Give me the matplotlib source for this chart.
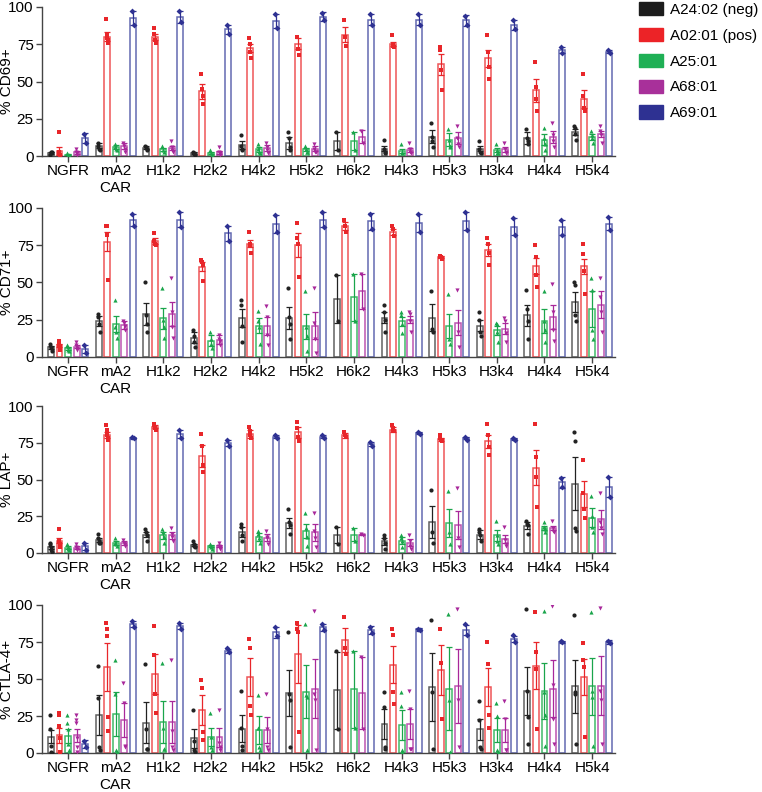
import numpy as np
import matplotlib
matplotlib.use('Agg')
from matplotlib import pyplot as plt
from matplotlib.patches import Patch

plt.rcParams['font.family'] = ['Liberation Sans', 'DejaVu Sans']

# Groups and series
groups = ['NGFR', 'mA2\nCAR', 'H1k2', 'H2k2', 'H4k2', 'H5k2', 'H6k2', 'H4k3', 'H5k3', 'H3k4', 'H4k4', 'H5k4']
series = ['A24:02 (neg)', 'A02:01 (pos)', 'A25:01', 'A68:01', 'A69:01']
fill_colors = ['#1c1c1c', '#ec2327', '#1fb055', '#a8309a', '#2e3192']
edge_colors = ['#606060', '#ef5557', '#40b968', '#bd55b1', '#6369b2']
err_colors = ['#222222', '#e8262a', '#1aa54b', '#a8279a', '#2e3192']
markers = ['o', 's', '^', 'v', 'D']

# ---- CD69 ----
cd69_mean = [[2, 7, 5.5, 2, 7.5, 9, 10, 5, 13, 5, 12, 16],
             [3.5, 80, 80, 43.5, 72.5, 75.5, 81.5, 75, 61.5, 65.5, 44, 38],
             [1, 6, 4.5, 2, 4.5, 4.5, 10, 3.5, 11, 4, 11, 13],
             [2.5, 7, 5.5, 2.5, 5.5, 5, 13, 4, 12, 4.5, 13, 15],
             [12, 92.5, 93.5, 85, 90.5, 93.5, 91.5, 91.5, 91, 88, 71, 70]]
cd69_err = [[0.5, 1.5, 1, 0.5, 2.5, 4, 6, 1.5, 4.5, 1.5, 4, 2],
            [2.5, 3, 2, 5, 2.5, 3.5, 5, 1.5, 7, 5.5, 8, 6],
            [0.5, 1.5, 1, 0.7, 1.5, 1.2, 6, 1.5, 4.5, 1.5, 3.5, 2],
            [1, 2, 1.5, 1, 2, 1.5, 4.5, 1.5, 4, 1.5, 4, 2],
            [3.5, 4.5, 4, 3, 4.5, 3, 3.5, 3.5, 3.5, 3.5, 2, 1]]
cd69_pts = [[[1, 2, 3, 2.5], [9, 7, 5, 4], [7, 6, 5, 4], [3, 2, 1.5, 1], [14, 7, 5, 4], [16, 12, 6, 4], [16, 4],
             [11, 5, 3, 2], [22, 13, 10, 6], [10, 5, 3, 2], [18, 12, 10, 8], [20, 19, 15, 11]],
            [[16, 3, 2, 1, 0.5], [92, 81, 79, 78, 76], [86, 82, 78, 76], [55, 45, 40, 35], [79, 75, 70, 66],
             [80, 80, 72, 68], [91, 80, 74], [81, 75, 74, 73], [73, 71, 58, 44], [81, 70, 60, 52], [63, 46, 38, 30],
             [55, 40, 32, 30]],
            [[2, 1, 0.5], [8, 6, 5, 4], [7, 4, 3], [4, 2, 1], [8, 5, 3, 2], [7, 5, 3, 3], [16, 4], [8, 3, 2],
             [18, 11, 7, 6], [8, 4, 2, 2], [19, 12, 8, 4], [17, 14, 12, 9]],
            [[5, 3, 2, 1], [9, 7, 5, 3], [10, 6, 4, 3], [6, 3, 2, 1], [9, 6, 4, 2], [8, 5, 3, 3], [17, 9], [9, 5, 3, 2],
             [20, 12, 8, 6], [9, 5, 3, 2], [22, 14, 10, 6], [20, 17, 14, 9]],
            [[15, 9], [97, 88], [97, 90], [88, 82], [95, 86], [96, 91], [95, 88], [95, 88], [94, 88], [91, 85],
             [73, 69], [71, 69]]]

# ---- CD71 ----
cd71_mean = [[6.5, 24, 29, 13, 26, 26, 39, 26.5, 26.5, 21, 28, 37],
             [8, 77.5, 78, 60.5, 76, 75, 88, 84, 67, 72, 61, 61],
             [6, 22, 26, 11, 21, 20.5, 40, 24, 21, 18, 24, 32],
             [7, 21.5, 29, 11.5, 21, 21, 44, 25, 23, 19, 27, 35],
             [5.5, 92, 92, 83, 89.5, 92, 91, 90, 91, 87.5, 87, 89.5]]
cd71_err = [[1, 3.5, 7.5, 3.5, 6, 7.5, 16, 3.5, 9, 3.5, 7, 6.5],
            [1, 6.5, 2, 3, 2.5, 8, 2.5, 2, 0.5, 4, 5.5, 5],
            [1, 5.5, 7, 3.5, 5, 8.5, 16, 3, 8, 3, 8, 12],
            [1, 2.5, 8, 3, 6, 9, 12, 2.5, 8.5, 3.5, 8, 9],
            [2.5, 4, 5, 5, 6, 5, 5.5, 6, 6, 5.5, 5, 4.5]]
cd71_pts = [[[9, 7, 6, 4], [29, 27, 22, 17], [50, 28, 22, 17], [18, 14, 10, 7], [38, 35, 21, 10], [46, 27, 22, 12],
             [55, 24], [35, 30, 25, 17], [44, 19, 17], [30, 25, 17, 14], [45, 32, 24, 12], [50, 48, 28, 24]],
            [[11, 9, 8, 7, 6, 5], [88, 88, 82, 52], [83, 78, 76, 75], [65, 64, 62, 51], [84, 76, 75, 70],
             [90, 80, 76, 54], [92, 88, 84], [88, 86, 81], [68, 67, 67, 66], [80, 76, 70, 62], [75, 67, 55, 47],
             [76, 69, 58, 42]],
            [[8, 7, 5, 4], [38, 20, 17, 13], [46, 25, 20, 13], [17, 12, 9, 6], [31, 24, 20, 9], [44, 20, 14, 4],
             [56, 24], [30, 28, 22, 16], [42, 12, 9], [23, 22, 17, 10], [44, 24, 18, 10], [53, 45, 18, 12]],
            [[10, 8, 6, 5], [24, 23, 21, 18], [53, 30, 20, 13], [15, 12, 11, 8], [34, 27, 15, 8], [46, 23, 12, 3],
             [56, 32], [30, 29, 24, 17], [45, 17, 7], [26, 24, 16, 10], [49, 30, 18, 11], [53, 40, 30, 17]],
            [[8, 3], [96, 88], [97, 87], [88, 78], [95, 84], [97, 87], [96, 86], [96, 84], [97, 85], [93, 82],
             [92, 82], [94, 85]]]

# ---- LAP ----
lap_mean = [[4, 9, 12.5, 5.5, 14.5, 20.5, 12, 8, 21, 12.5, 18.5, 47],
            [8.5, 80, 86, 66, 81, 82, 80, 84, 77.5, 76, 58, 40],
            [3.5, 7, 12, 4.5, 11, 15, 12.5, 8.5, 20.5, 12, 17, 24],
            [3.5, 7, 12, 4.5, 10.5, 14, 12.5, 7, 19, 9.5, 17, 23],
            [4.5, 78, 81, 75, 79, 79, 74, 81.5, 78, 77.5, 48, 45]]
lap_err = [[1, 1.5, 1.5, 0.8, 3.5, 3.5, 5.5, 2.5, 11, 3, 2.5, 18],
           [2, 2, 1, 7.5, 2.5, 3.5, 1.5, 1.5, 1, 4.5, 12, 9],
           [1, 1.5, 2.5, 0.7, 2.5, 5, 4.5, 2.5, 9.5, 3.5, 1.5, 6.5],
           [1, 1.5, 2.5, 0.7, 2.5, 5.5, 0.3, 2.5, 9.5, 3, 1.5, 6.5],
           [2.5, 0.5, 3, 2, 1, 1, 1.5, 0.5, 0.7, 0.5, 3.5, 7]]
lap_pts = [[[7, 6, 4, 2, 1], [13, 10, 8, 7, 7], [16, 14, 12, 8], [8, 6, 5, 4], [20, 18, 12, 8], [30, 21, 19, 13],
            [18, 6], [12, 10, 7, 3], [43, 14, 7], [16, 14, 12, 8], [22, 20, 19, 13], [82, 76, 17, 15]],
           [[16, 9, 8, 6, 4], [87, 84, 80, 78, 77], [88, 87, 85, 84], [81, 73, 60, 55], [86, 83, 80, 78],
            [89, 85, 79, 76], [82, 80, 79], [87, 85, 84, 83], [80, 78, 77, 76], [88, 80, 72, 67], [88, 65, 52, 31],
            [63, 41, 30, 24]],
           [[6, 4, 3, 2], [10, 7, 6, 5], [16, 14, 11, 7], [6, 5, 4, 3], [15, 13, 10, 7], [27, 17, 11, 5], [17, 8],
            [12, 10, 8, 4], [42, 14, 6], [22, 12, 8, 6], [21, 18, 16, 14], [39, 25, 18, 14]],
           [[6, 4, 3, 2], [9, 7, 6, 5], [17, 13, 11, 8], [7, 5, 4, 3], [15, 11, 10, 6], [27, 15, 10, 4], [13, 12.5],
            [12, 8, 5, 3], [44, 10, 4], [18, 9, 6, 5], [22, 17, 15, 14], [41, 21, 17, 13]],
           [[7, 2], [79, 78], [84, 78], [77, 73], [80, 78], [80, 78], [75.5, 73], [82, 81], [79, 77], [78, 77],
            [51, 45], [52, 38]]]

# ---- CTLA-4 ----
ctla4_mean = [[11, 25.5, 20.5, 10, 16.5, 40.5, 42.5, 19.5, 44.5, 16, 42, 45],
              [12, 58, 53.5, 29, 51.5, 67, 76.5, 59.5, 56, 44.5, 59, 51.5],
              [11.5, 26.5, 21, 11, 15.5, 41.5, 43, 19, 43.5, 15.5, 42, 45],
              [12, 22.5, 21, 10.5, 15.5, 43.5, 40.5, 19.5, 45.5, 15.5, 43.5, 45.5],
              [6, 87, 86, 69, 81.5, 85, 83, 83.5, 83, 77, 75, 75]]
ctla4_err = [[4.5, 13.5, 14, 6.5, 9, 15.5, 26, 10, 23, 7, 16, 18],
             [5, 16, 13.5, 10, 13, 19.5, 8, 12.5, 17, 13, 16, 12],
             [5, 15, 14, 6, 9.5, 18, 26, 10, 28, 8, 19, 19.5],
             [4.5, 11.5, 14, 6.5, 9, 20, 24.5, 10, 25, 8, 19.5, 20],
             [2.5, 2, 2, 1.5, 3.5, 2.5, 2.5, 1, 3.5, 2, 0.5, 1.5]]
ctla4_pts = [[[26, 16, 5, 1, 0], [59, 37, 4, 2], [60, 16, 3, 3], [29, 8, 2, 1], [42, 17, 5, 2], [82, 40, 36, 4],
              [69, 16], [41, 31, 4, 3], [90, 41, 3], [35, 22, 4, 3], [97, 42, 24, 6], [93, 41, 40, 6]],
             [[27, 26, 18, 10, 1, 0], [88, 84, 79, 24, 15], [86, 66, 40, 27], [49, 44, 14, 9], [77, 71, 32, 26],
              [88, 84, 82, 14], [92, 71, 67], [84, 80, 41, 33], [84, 61, 23], [75, 60, 26, 17], [95, 68, 57, 16],
              [74, 63, 58, 11]],
             [[26, 20, 16, 6, 2, 0], [63, 40, 2, 1], [61, 17, 3, 3], [27, 11, 4, 2], [39, 17, 4, 2], [87, 39, 38, 2],
              [69, 17], [41, 32, 2, 1], [94, 36, 1], [34, 25, 2, 1], [96, 41, 26, 5], [95, 42, 38, 5]],
             [[26, 22, 20, 10, 4, 1], [47, 34, 5, 4], [63, 15, 4, 2], [29, 7, 4, 2], [40, 16, 4, 2], [96, 40, 36, 2],
              [65, 16], [42, 30, 3, 3], [97, 36, 4], [35, 23, 2, 2], [99, 46, 23, 6], [98, 42, 36, 6]],
             [[8, 4], [89, 85], [88, 84], [71, 68], [85, 79], [87, 83], [85, 81], [84, 83], [87, 80], [80, 75],
              [75.5, 75], [76, 74]]]

panels = [('% CD69+', cd69_mean, cd69_err, cd69_pts),
          ('% CD71+', cd71_mean, cd71_err, cd71_pts),
          ('% LAP+', lap_mean, lap_err, lap_pts),
          ('% CTLA-4+', ctla4_mean, ctla4_err, ctla4_pts)]

W, H = 762, 792
fig = plt.figure(figsize=(W / 100, H / 100), dpi=100)

# axes boxes in pixels: (top, bottom)
boxes = [(7, 156), (208, 357), (406, 553), (605, 753)]
ax_left, ax_right = 42, 615

x = np.arange(len(groups))
step = 0.179
bar_w = 0.125

for (ylabel, means, errs, pts), (top, bot) in zip(panels, boxes):
    ax = fig.add_axes([ax_left / W, 1 - bot / H, (ax_right - ax_left) / W, (bot - top) / H])
    for s in range(5):
        xs = x + (s - 2) * step
        ax.bar(xs, means[s], width=bar_w, facecolor='white', edgecolor=edge_colors[s], linewidth=1.1, zorder=2)
        ax.errorbar(xs, means[s], yerr=errs[s], fmt='none', ecolor=err_colors[s], elinewidth=0.9,
                    capsize=2, capthick=0.9, zorder=3)
        for g in range(len(groups)):
            vals = pts[s][g]
            n = len(vals)
            jit = np.linspace(-0.02, 0.02, n) if n > 1 else np.zeros(1)
            ax.scatter(xs[g] + jit, vals, s=9, marker=markers[s], color=err_colors[s], linewidths=0, zorder=4)

    ax.set_xlim(-0.546, 11.48)
    ax.set_ylim(0, 100)
    ax.set_yticks([0, 25, 50, 75, 100])
    ax.set_xticks(x)
    ax.set_xticklabels(groups, fontsize=11)
    ax.tick_params(axis='y', labelsize=11, length=4, width=1, color='#444444', pad=2)
    ax.tick_params(axis='x', length=4, width=1, color='#444444', pad=2)
    ax.set_ylabel(ylabel, fontsize=11)
    ax.yaxis.set_label_coords((14 - ax_left) / (ax_right - ax_left), 0.5)
    ax.spines['top'].set_visible(False)
    ax.spines['right'].set_visible(False)
    for sp in ['left', 'bottom']:
        ax.spines[sp].set_color('#444444')
        ax.spines[sp].set_linewidth(1.0)
    ax.patch.set_alpha(0)

handles = [Patch(facecolor=c, edgecolor=c) for c in fill_colors]
fig.legend(handles, series, loc='upper left', bbox_to_anchor=(639 / W, 1 - 2 / H), frameon=False,
           fontsize=11, handlelength=1.55, handleheight=0.95, handletextpad=0.5, labelspacing=0.72,
           borderpad=0, borderaxespad=0)

plt.savefig('out.png', dpi=100)
